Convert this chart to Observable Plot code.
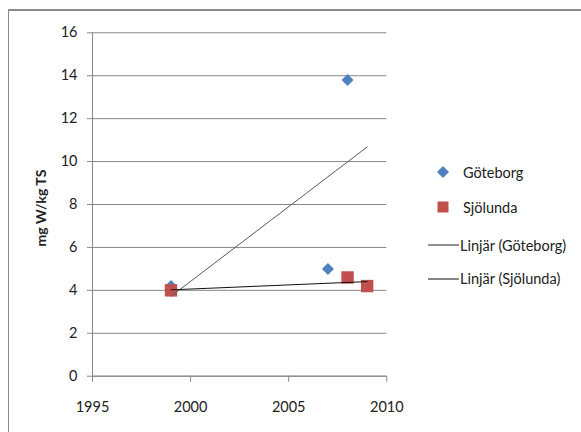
<!DOCTYPE html>
<html>
<head>
<meta charset="utf-8">
<script src="https://cdn.jsdelivr.net/npm/d3@7"></script>
<script src="https://cdn.jsdelivr.net/npm/@observablehq/plot@0.6"></script>
<style>
  html, body { margin: 0; padding: 0; background: #fff; overflow: hidden; }
  #wrap { position: relative; width: 581px; height: 432px; font-family: Lato, "Open Sans", sans-serif; color: #222; }
  #frame { position: absolute; left: 8px; top: 9px; width: 640px; height: 500px;
           border-top: 2px solid #8a8a8a; border-left: 1.5px solid #8a8a8a; box-sizing: border-box; }
  #chart { position: absolute; left: 0; top: 0; }
  #ytitle { position: absolute; left: 40px; top: 208px; transform: translate(-50%, -50%) rotate(-90deg);
            font-weight: bold; font-size: 14px; white-space: nowrap; }
  .leg { position: absolute; font-size: 14.5px; white-space: nowrap; display: flex; align-items: center; }
  .leg svg { flex: none; }
</style>
</head>
<body>
<div id="wrap">
  <div id="frame"></div>
  <div id="chart"></div>
  <div id="ytitle">mg W/kg TS</div>
  <div id="legend"></div>
</div>
<script>
// Measured concentrations per site and year
const gbgYears = [1999, 2007, 2008];
const gbgValues = [4.2, 5.0, 13.8];
const sjoYears = [1999, 2008, 2009];
const sjoValues = [4.0, 4.6, 4.2];

const xTicks = [1995, 2000, 2005, 2010];
const yTicks = [0, 2, 4, 6, 8, 10, 12, 14, 16];

const seriesNames = ["Göteborg", "Sjölunda"];
const trendNames = ["Linjär (Göteborg)", "Linjär (Sjölunda)"];
const colors = ["#4F81BD", "#C0504D"];
const trendColors = ["#5a5a5a", "#111111"];

const gbg = gbgYears.map((x, i) => ({x, y: gbgValues[i]}));
const sjo = sjoYears.map((x, i) => ({x, y: sjoValues[i]}));

// Least-squares line, drawn across the full span of observed years
const span = d3.extent([...gbgYears, ...sjoYears]);
function trend(pts) {
  const mx = d3.mean(pts, d => d.x), my = d3.mean(pts, d => d.y);
  const b = d3.sum(pts, d => (d.x - mx) * (d.y - my)) / d3.sum(pts, d => (d.x - mx) ** 2);
  const a = my - b * mx;
  return span.map(x => ({x, y: a + b * x}));
}

const axisGray = "#878787";

const chart = Plot.plot({
  width: 581,
  height: 432,
  marginLeft: 92,
  marginRight: 194.7,
  marginTop: 32.3,
  marginBottom: 56.3,
  style: {fontFamily: "Lato, 'Open Sans', sans-serif", fontSize: "14.5px", color: "#222", background: "transparent", overflow: "visible"},
  x: {domain: [1995, 2010]},
  y: {domain: [0, 16]},
  marks: [
    Plot.gridY(yTicks, {stroke: axisGray, strokeOpacity: 1, strokeWidth: 1}),
    Plot.ruleX([1995], {stroke: axisGray}),
    Plot.ruleY([0], {stroke: axisGray}),
    Plot.axisY({ticks: yTicks, tickSize: 5, tickPadding: 10, label: null, stroke: axisGray, fill: "#222"}),
    Plot.axisX({ticks: xTicks, tickSize: 6, tickPadding: 20, label: null, tickFormat: "d", stroke: axisGray, fill: "#222"}),
    Plot.dot(gbg, {x: "x", y: "y", symbol: "diamond2", r: 5.4, fill: colors[0], stroke: "none"}),
    Plot.dot(sjo, {x: "x", y: "y", symbol: "square", r: 7, fill: colors[1], stroke: "none"}),
    Plot.line(trend(gbg), {x: "x", y: "y", stroke: trendColors[0], strokeWidth: 1}),
    Plot.line(trend(sjo), {x: "x", y: "y", stroke: trendColors[1], strokeWidth: 1})
  ]
});
document.getElementById("chart").appendChild(chart);

// Legend on the right
const legend = document.getElementById("legend");
const items = [
  {label: seriesNames[0], kind: "diamond", color: colors[0], top: 172},
  {label: seriesNames[1], kind: "square", color: colors[1], top: 207},
  {label: trendNames[0], kind: "line", color: "#222", top: 245},
  {label: trendNames[1], kind: "line", color: "#111", top: 278.5}
];
for (const it of items) {
  const div = document.createElement("div");
  div.className = "leg";
  let icon;
  if (it.kind === "line") {
    div.style.left = "428px";
    icon = `<svg width="32" height="10"><line x1="0" x2="31" y1="5" y2="5" stroke="${it.color}" stroke-width="1"/></svg>`;
  } else {
    div.style.left = "436px";
    icon = it.kind === "diamond"
      ? `<svg width="14" height="14" style="margin-right:13px"><path d="M7,1L13,7L7,13L1,7Z" fill="${it.color}"/></svg>`
      : `<svg width="14" height="14" style="margin-right:13px"><rect x="1.5" y="1.5" width="11" height="11" fill="${it.color}"/></svg>`;
  }
  div.innerHTML = icon + `<span>${it.label}</span>`;
  div.style.top = (it.top - 10) + "px";
  div.style.height = "20px";
  legend.appendChild(div);
}
</script>
</body>
</html>
